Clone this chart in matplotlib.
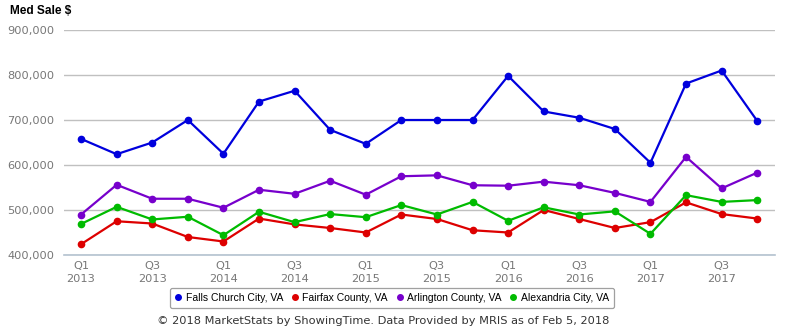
import matplotlib
matplotlib.use("Agg")
import matplotlib.pyplot as plt
from matplotlib.ticker import FuncFormatter

quarters = ["Q1", "Q2", "Q3", "Q4"] * 5
years = [y for y in range(2013, 2018) for _ in range(4)]

falls_church = [658, 624, 650, 700, 625, 741, 765, 678, 647, 700,
                700, 700, 798, 719, 705, 680, 605, 781, 810, 698]
fairfax = [424, 475, 470, 440, 430, 481, 468, 460, 450, 490,
           480, 455, 450, 500, 480, 460, 473, 517, 491, 481]
arlington = [490, 556, 525, 525, 505, 545, 536, 565, 534, 575,
             577, 555, 554, 563, 555, 538, 518, 618, 548, 583]
alexandria = [469, 507, 479, 485, 444, 496, 473, 491, 484, 511,
              490, 518, 476, 506, 490, 497, 447, 533, 518, 522]

series = [
    ("Falls Church City, VA", falls_church, "#0000dd"),
    ("Fairfax County, VA", fairfax, "#dd0000"),
    ("Arlington County, VA", arlington, "#7700cc"),
    ("Alexandria City, VA", alexandria, "#00bb00"),
]

W, H = 785, 330
fig = plt.figure(figsize=(W / 100, H / 100), dpi=100)
ax = fig.add_axes([64 / W, 75 / H, 711 / W, 225 / H])

x = list(range(len(quarters)))
for name, vals, col in series:
    ax.plot(x, [v * 1000 for v in vals], color=col, lw=1.6, marker="o",
            ms=4.5, label=name, zorder=3)

ax.set_ylim(400000, 900000)
ax.set_xlim(-0.48, 19.5)
ax.set_yticks(range(400000, 900001, 100000))
ax.yaxis.set_major_formatter(FuncFormatter(lambda v, p: f"{int(v):,}"))
ax.set_xticks(x[::2])
ax.set_xticklabels([f"{q}\n{y}" for q, y in zip(quarters[::2], years[::2])],
                   linespacing=1.45)
ax.grid(axis="y", color="#c0c0c0", lw=1)
ax.set_axisbelow(True)
for s in ax.spines.values():
    s.set_visible(False)
# bottom axis line is a little bluer than the grid
ax.spines["bottom"].set_visible(True)
ax.spines["bottom"].set_color("#b4c2d0")
ax.spines["bottom"].set_linewidth(1.2)
ax.tick_params(length=0, colors="#777777", labelsize=8.2)
ax.tick_params(axis="y", pad=7)
ax.tick_params(axis="x", pad=4)

fig.text(10 / W, 1 - 11 / H, "Med Sale $", fontsize=8.6, fontweight="bold",
         family="Liberation Sans", va="center", ha="left")

leg = ax.legend(loc="center", bbox_to_anchor=(392 / W, 1 - 298 / H),
                bbox_transform=fig.transFigure, ncol=4, frameon=True,
                fancybox=True, edgecolor="#888888", handlelength=0.6,
                handletextpad=0.4, columnspacing=0.85, borderpad=0.5,
                prop={"family": "Liberation Sans", "size": 7.5})
leg.get_frame().set_linewidth(0.9)
for h in leg.legend_handles:
    h.set_linestyle("")
    h.set_markersize(4)

fig.text(383 / W, 1 - 321 / H,
         "\u00a9 2018 MarketStats by ShowingTime. Data Provided by MRIS as of Feb 5, 2018",
         fontsize=8.2, color="#333333", ha="center", va="center")

fig.savefig("out.png", dpi=100)
